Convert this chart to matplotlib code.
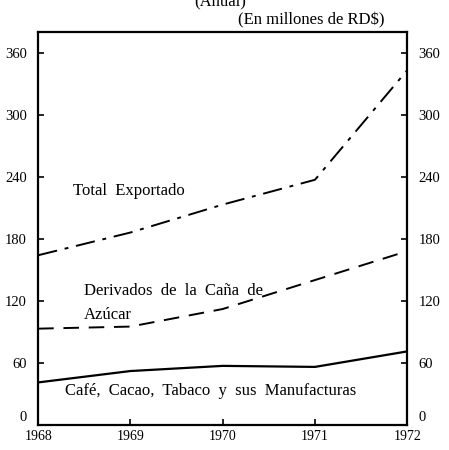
import matplotlib.pyplot as plt
import matplotlib.transforms as mtransforms

years = [1968, 1969, 1970, 1971, 1972]
total = [164, 186, 213, 237, 343]
derivados = [93, 95, 112, 140, 168]
cafe = [41, 52, 57, 56, 71]

y_ticks = [0, 60, 120, 180, 240, 300, 360]

plt.rcParams["font.family"] = ["Liberation Serif", "DejaVu Serif"]

fig = plt.figure(figsize=(4.49, 4.5), dpi=100)
ax = fig.add_axes([0.085, 0.056, 0.822, 0.873])

ax.plot(years, total, color="black", lw=1.4, dashes=[10, 4, 2, 4])
ax.plot(years, derivados, color="black", lw=1.4, dashes=[8, 5])
ax.plot(years, cafe, color="black", lw=1.6)

ax.set_xlim(1968, 1972)
ax.set_ylim(0, 380)
ax.set_xticks(years)
ax.set_xticklabels([str(y) for y in years], fontsize=10)
ax.set_yticks(y_ticks)
ax.set_yticklabels([str(v) for v in y_ticks], fontsize=10.5)
ax.tick_params(axis="both", direction="in", length=4, width=1.2,
               right=True, labelright=True)
ax.tick_params(axis="x", pad=4)
ax.tick_params(axis="y", pad=8)
for s in ax.spines.values():
    s.set_linewidth(1.6)

# lift the two "0" labels so they clear the year labels
lift = mtransforms.ScaledTranslation(0, 6 / 72, fig.dpi_scale_trans)
fig.canvas.draw()
for tick in ax.yaxis.get_major_ticks()[:1]:
    tick.label1.set_transform(tick.label1.get_transform() + lift)
    tick.label2.set_transform(tick.label2.get_transform() + lift)

ax.text(1968.38, 222, "Total  Exportado", fontsize=12)
ax.text(1968.5, 126, "Derivados  de  la  Caña  de", fontsize=12)
ax.text(1968.5, 102, "Azúcar", fontsize=12)
ax.text(1968.29, 29, "Café,  Cacao,  Tabaco  y  sus  Manufacturas", fontsize=12)

fig.text(0.53, 0.955, "(En millones de RD$)", fontsize=12, va="center")
fig.text(0.49, 0.998, "(Anual)", fontsize=12, va="center", ha="center")

fig.savefig("out.png", dpi=100, facecolor="white")
